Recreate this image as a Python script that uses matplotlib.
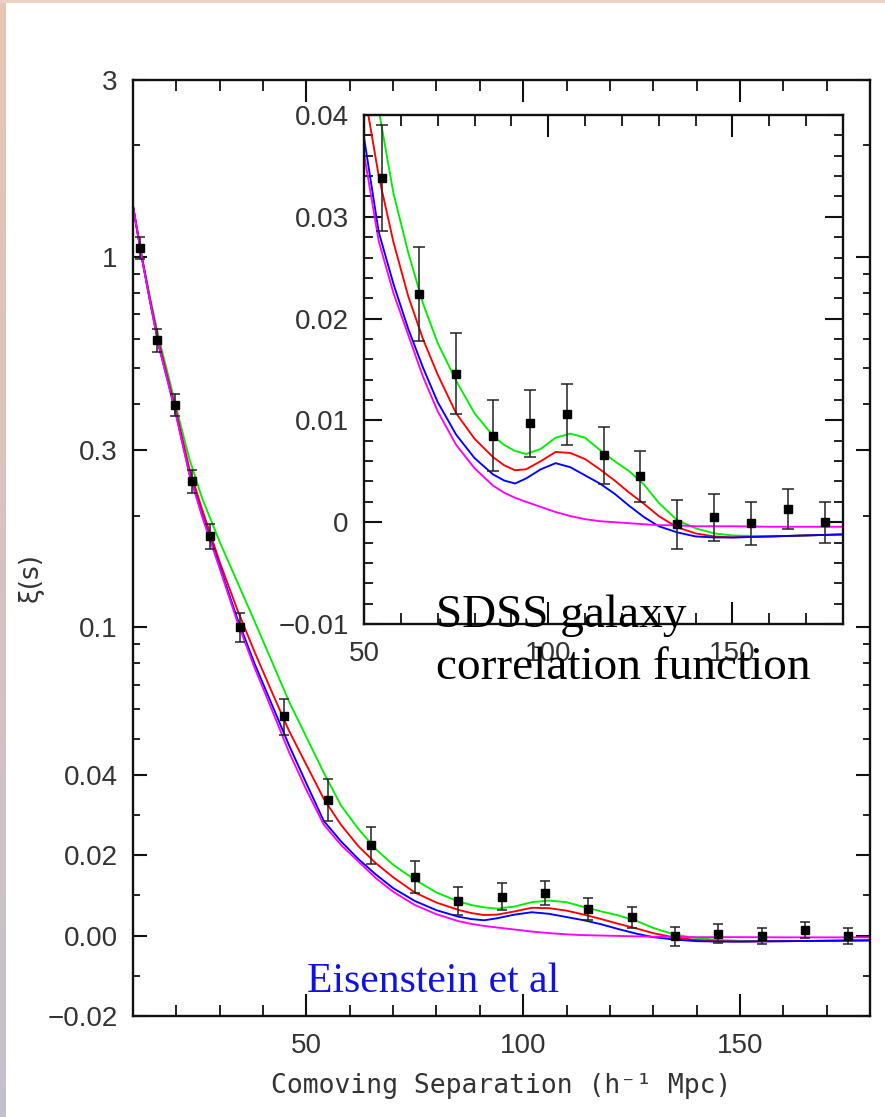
import numpy as np
import matplotlib
matplotlib.use('Agg')
import matplotlib.pyplot as plt
from matplotlib.ticker import FixedLocator, NullFormatter

# SDSS LRG redshift-space correlation function
pt_s = [11.5, 15.6, 19.6, 23.6, 27.8, 34.7, 44.8, 55, 65, 75, 85, 95, 105,
        115, 125, 135, 145, 155, 165, 175]
pt_xi = [1.058, 0.595, 0.399, 0.248, 0.176, 0.1004, 0.0575, 0.0338, 0.0224,
         0.0146, 0.0085, 0.0097, 0.0106, 0.0066, 0.0045, -0.0002, 0.0005,
         -0.0001, 0.0013, 0.0000]
pt_err = [0.07, 0.043, 0.028, 0.018, 0.0135, 0.009, 0.0064, 0.0052, 0.0046,
          0.0040, 0.0035, 0.0033, 0.0030, 0.0028, 0.0025, 0.0024, 0.0023,
          0.0021, 0.0020, 0.0020]

# model curves
s_model = [10, 12, 14, 16, 18, 20, 23, 26, 30, 34, 38, 42, 46, 50, 54, 58, 62,
           66, 70, 75, 80, 85, 88, 91, 94, 98, 102, 106, 110, 114, 118, 122,
           126, 130, 135, 140, 145, 150, 160, 170, 180]
xi_green = [1.37, 1.01, 0.77, 0.60, 0.485, 0.39, 0.285, 0.222, 0.170, 0.133,
            0.104, 0.081, 0.063, 0.0505, 0.0405, 0.0323, 0.0265, 0.0215, 0.0176, 0.0139,
            0.0107, 0.0085, 0.0076, 0.0070, 0.0067, 0.0072, 0.0083, 0.0087, 0.0083, 0.0071,
            0.0060, 0.0050, 0.0037, 0.0019, 0.0002, -0.0006, -0.0011, -0.0013, -0.0014,
            -0.0013, -0.0012]
xi_red = [1.37, 1.00, 0.76, 0.585, 0.47, 0.38, 0.268, 0.207, 0.150, 0.112,
          0.086, 0.067, 0.0525, 0.0425, 0.0340, 0.0275, 0.0222, 0.0180, 0.0145, 0.0107,
          0.0082, 0.0064, 0.0056, 0.0051, 0.0052, 0.0060, 0.0069, 0.0068, 0.0062, 0.0052,
          0.0041, 0.0029, 0.0018, 0.0006, -0.0005, -0.0011, -0.0014, -0.0015, -0.0014,
          -0.0013, -0.0012]
xi_blue = [1.37, 1.00, 0.75, 0.571, 0.463, 0.372, 0.260, 0.200, 0.146, 0.106,
           0.080, 0.062, 0.048, 0.0378, 0.0285, 0.0234, 0.0190, 0.0152, 0.0118, 0.0086,
           0.0063, 0.0047, 0.0041, 0.0038, 0.0043, 0.0052, 0.0058, 0.0054, 0.0046, 0.0038,
           0.0028, 0.0016, 0.0005, -0.0004, -0.0010, -0.0014, -0.0015, -0.0015, -0.0014,
           -0.0013, -0.0012]
xi_magenta = [1.37, 1.00, 0.75, 0.571, 0.462, 0.371, 0.259, 0.198, 0.144, 0.104,
              0.078, 0.060, 0.046, 0.0362, 0.0276, 0.0225, 0.0184, 0.0143, 0.0109, 0.0076,
              0.0053, 0.0036, 0.0029, 0.0024, 0.0020, 0.0015, 0.0010, 0.0006, 0.0003, 0.0001,
              0.0000, -0.0001, -0.0002, -0.0003, -0.0003, -0.0004, -0.0004, -0.0004,
              -0.00045, -0.00045, -0.00045]

curves = [(xi_green, '#00ee00'), (xi_red, '#ff0000'),
          (xi_blue, '#0000ff'), (xi_magenta, '#ff00ff')]

main_major = [3, 1, 0.3, 0.1, 0.04, 0.02, 0.0, -0.02]
main_labels = ['3', '1', '0.3', '0.1', '0.04', '0.02', '0.00', '\u22120.02']
main_minor = [2, 0.9, 0.8, 0.7, 0.6, 0.5, 0.4, 0.2, 0.09, 0.08, 0.07, 0.06,
              0.05, 0.03, 0.01, -0.01]
inset_major = [0.04, 0.03, 0.02, 0.01, 0.0, -0.01]
inset_labels = ['0.04', '0.03', '0.02', '0.01', '0', '\u22120.01']


# log above 0.04, linear below (matched slope)
def fwd(y):
    y = np.asarray(y, dtype=float)
    return np.where(y >= 0.04, 0.04 + 0.04 * np.log(np.maximum(y, 0.04) / 0.04), y)


def inv(t):
    t = np.asarray(t, dtype=float)
    return np.where(t >= 0.04, 0.04 * np.exp((np.minimum(t, 2.0) - 0.04) / 0.04), t)


W, H = 885, 1117
fig = plt.figure(figsize=(W / 100, H / 100), dpi=100)
fig.patch.set_facecolor('white')

# slide edges
strip = fig.add_axes([0, 0, 6 / W, 1])
grad = np.linspace(0, 1, 200)[:, None]
c_top = np.array([232, 198, 180]) / 255
c_bot = np.array([196, 192, 204]) / 255
strip.imshow((c_top[None, None, :] * (1 - grad[:, :, None]) +
              c_bot[None, None, :] * grad[:, :, None]), aspect='auto')
strip.axis('off')
top = fig.add_axes([0, 1 - 3 / H, 1, 3 / H])
top.set_facecolor('#ecd2c2')
top.set_xticks([])
top.set_yticks([])
for sp in top.spines.values():
    sp.set_visible(False)

tick_font = dict(family='Liberation Sans', size=20)


def style(ax, xmaj, ymaj):
    for sp in ax.spines.values():
        sp.set_linewidth(1.7)
        sp.set_color('#111')
    ax.tick_params(which='both', direction='in', top=True, right=True,
                   colors='#111', labelcolor='#333')
    ax.tick_params(axis='x', which='major', length=xmaj, width=1.5, pad=12)
    ax.tick_params(axis='x', which='minor', length=xmaj / 2, width=1.3)
    ax.tick_params(axis='y', which='major', length=ymaj, width=1.5, pad=11)
    ax.tick_params(axis='y', which='minor', length=ymaj / 2, width=1.3)
    for lab in ax.get_xticklabels() + ax.get_yticklabels():
        lab.set_fontfamily(tick_font['family'])
        lab.set_fontsize(tick_font['size'])


# main panel
ax = fig.add_axes([133 / W, 1 - 1016 / H, 737 / W, 936 / H])
ax.set_yscale('function', functions=(fwd, inv))
for yv, col in curves:
    ax.plot(s_model, yv, color=col, lw=1.35, zorder=2)
ax.errorbar(pt_s, pt_xi, yerr=pt_err, fmt='s', color='black', ecolor='#222',
            ms=5.5, elinewidth=1.1, capsize=3.5, capthick=1.1, zorder=3)
ax.set_xlim(10, 180)
ax.set_ylim(-0.02, 3)
ax.xaxis.set_major_locator(FixedLocator([50, 100, 150]))
ax.xaxis.set_minor_locator(FixedLocator(list(range(20, 180, 10))))
ax.set_xticklabels(['50', '100', '150'])
ax.yaxis.set_major_locator(FixedLocator(main_major))
ax.yaxis.set_minor_locator(FixedLocator(main_minor))
ax.set_yticklabels(main_labels)
ax.yaxis.set_minor_formatter(NullFormatter())
style(ax, 16, 10)

fig.text(501 / W, 1 - 1086 / H, 'Comoving Separation (h\u207b\u00b9 Mpc)',
         family='DejaVu Sans Mono', size=19, color='#333', ha='center', va='center')
fig.text(31 / W, 1 - 577 / H, '\u03be(s)', family='DejaVu Sans', size=19,
         color='#333', rotation=90, ha='center', va='center')

# inset: zoom on the acoustic peak
axi = fig.add_axes([364 / W, 1 - 624 / H, 479 / W, 509 / H])
axi.set_facecolor('white')
for yv, col in curves:
    axi.plot(s_model, yv, color=col, lw=1.35, zorder=2)
sel = [i for i, s in enumerate(pt_s) if s >= 50]
axi.errorbar([pt_s[i] for i in sel], [pt_xi[i] for i in sel],
             yerr=[pt_err[i] for i in sel], fmt='s', color='black', ecolor='#222',
             ms=6, elinewidth=1.1, capsize=4.5, capthick=1.1, zorder=3)
axi.set_xlim(50, 180)
axi.set_ylim(-0.01, 0.04)
axi.xaxis.set_major_locator(FixedLocator([50, 100, 150]))
axi.xaxis.set_minor_locator(FixedLocator(list(range(60, 180, 10))))
axi.set_xticklabels(['50', '100', '150'])
axi.yaxis.set_major_locator(FixedLocator(inset_major))
axi.yaxis.set_minor_locator(FixedLocator([v / 1000 for v in range(-8, 40, 2)]))
axi.set_yticklabels(inset_labels)
style(axi, 16, 13)

# slide annotations
fig.text(436 / W, 1 - 627 / H, 'SDSS galaxy', family='Liberation Serif',
         size=34, color='black', va='baseline', ha='left')
fig.text(436 / W, 1 - 679 / H, 'correlation function', family='Liberation Serif',
         size=34, color='black', va='baseline', ha='left')
fig.text(307 / W, 1 - 992 / H, 'Eisenstein et al', family='Liberation Serif',
         size=30, color='#1010e8', va='baseline', ha='left')

fig.savefig('out.png', dpi=100, facecolor=fig.get_facecolor())
